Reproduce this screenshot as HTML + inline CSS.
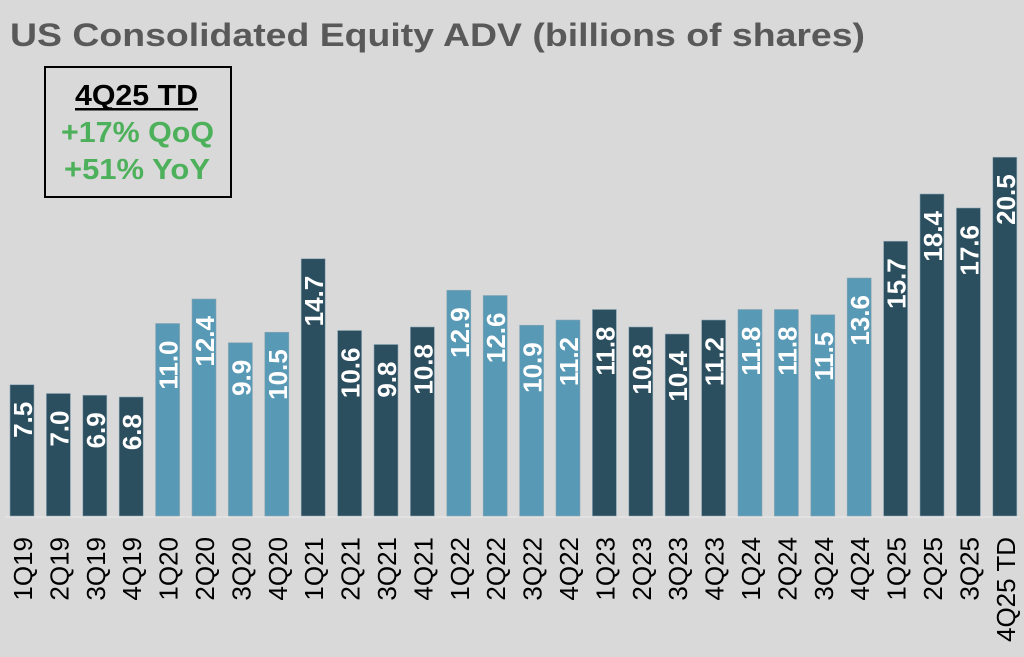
<!DOCTYPE html>
<html><head><meta charset="utf-8"><style>
html,body{margin:0;padding:0;background:#d9d9da;}
svg{display:block;font-family:"Liberation Sans",Arial,sans-serif;}
.d{fill:#2c4f5f;stroke:#8aa6b3;stroke-width:0.6}
.l{fill:#5899b5;stroke:#8aa6b3;stroke-width:0.6}
.v{font-size:26px;font-weight:bold;fill:#fff;text-anchor:end}
.c{font-size:26px;fill:#000;text-anchor:end}
</style></head><body>
<svg width="1024" height="657" viewBox="0 0 1024 657" xmlns="http://www.w3.org/2000/svg">
<rect width="1024" height="657" fill="#d9d9da"/>
<text x="10" y="46" font-size="32" font-weight="bold" fill="#595959" textLength="855" lengthAdjust="spacingAndGlyphs">US Consolidated Equity ADV (billions of shares)</text>
<rect x="45" y="67" width="186" height="130" fill="none" stroke="#000" stroke-width="2"/>
<text x="75" y="105" font-size="29" font-weight="bold" fill="#000" textLength="123" lengthAdjust="spacingAndGlyphs">4Q25 TD</text>
<rect x="75" y="108" width="123" height="2.5" fill="#000"/>
<text x="61" y="142" font-size="29" font-weight="bold" fill="#4db05a" textLength="153" lengthAdjust="spacingAndGlyphs">+17% QoQ</text>
<text x="64" y="179" font-size="29" font-weight="bold" fill="#4db05a" textLength="146" lengthAdjust="spacingAndGlyphs">+51% YoY</text>
<line x1="5" y1="517" x2="1020" y2="517" stroke="#e6e6e6" stroke-width="1.5"/>

<rect class="d" x="10" y="384.75" width="24" height="131.25"/>
<rect class="d" x="46.4" y="393.5" width="24" height="122.5"/>
<rect class="d" x="82.8" y="395.25" width="24" height="120.75"/>
<rect class="d" x="119.2" y="397" width="24" height="119"/>
<rect class="l" x="155.6" y="323.5" width="24" height="192.5"/>
<rect class="l" x="192" y="299" width="24" height="217"/>
<rect class="l" x="228.4" y="342.75" width="24" height="173.25"/>
<rect class="l" x="264.8" y="332.25" width="24" height="183.75"/>
<rect class="d" x="301.2" y="258.75" width="24" height="257.25"/>
<rect class="d" x="337.6" y="330.5" width="24" height="185.5"/>
<rect class="d" x="374" y="344.5" width="24" height="171.5"/>
<rect class="d" x="410.4" y="327" width="24" height="189"/>
<rect class="l" x="446.8" y="290.25" width="24" height="225.75"/>
<rect class="l" x="483.2" y="295.5" width="24" height="220.5"/>
<rect class="l" x="519.6" y="325.25" width="24" height="190.75"/>
<rect class="l" x="556" y="320" width="24" height="196"/>
<rect class="d" x="592.4" y="309.5" width="24" height="206.5"/>
<rect class="d" x="628.8" y="327" width="24" height="189"/>
<rect class="d" x="665.2" y="334" width="24" height="182"/>
<rect class="d" x="701.6" y="320" width="24" height="196"/>
<rect class="l" x="738" y="309.5" width="24" height="206.5"/>
<rect class="l" x="774.4" y="309.5" width="24" height="206.5"/>
<rect class="l" x="810.8" y="314.75" width="24" height="201.25"/>
<rect class="l" x="847.2" y="278" width="24" height="238"/>
<rect class="d" x="883.6" y="241.25" width="24" height="274.75"/>
<rect class="d" x="920" y="194" width="24" height="322"/>
<rect class="d" x="956.4" y="208" width="24" height="308"/>
<rect class="d" x="992.8" y="157.25" width="24" height="358.75"/>

<text class="v" transform="translate(32,401.75) rotate(-90)">7.5</text>
<text class="v" transform="translate(68.4,410.5) rotate(-90)">7.0</text>
<text class="v" transform="translate(104.8,412.25) rotate(-90)">6.9</text>
<text class="v" transform="translate(141.2,414) rotate(-90)">6.8</text>
<text class="v" transform="translate(177.6,340.5) rotate(-90)">11.0</text>
<text class="v" transform="translate(214,316) rotate(-90)">12.4</text>
<text class="v" transform="translate(250.4,359.75) rotate(-90)">9.9</text>
<text class="v" transform="translate(286.8,349.25) rotate(-90)">10.5</text>
<text class="v" transform="translate(323.2,275.75) rotate(-90)">14.7</text>
<text class="v" transform="translate(359.6,347.5) rotate(-90)">10.6</text>
<text class="v" transform="translate(396,361.5) rotate(-90)">9.8</text>
<text class="v" transform="translate(432.4,344) rotate(-90)">10.8</text>
<text class="v" transform="translate(468.8,307.25) rotate(-90)">12.9</text>
<text class="v" transform="translate(505.2,312.5) rotate(-90)">12.6</text>
<text class="v" transform="translate(541.6,342.25) rotate(-90)">10.9</text>
<text class="v" transform="translate(578,337) rotate(-90)">11.2</text>
<text class="v" transform="translate(614.4,326.5) rotate(-90)">11.8</text>
<text class="v" transform="translate(650.8,344) rotate(-90)">10.8</text>
<text class="v" transform="translate(687.2,351) rotate(-90)">10.4</text>
<text class="v" transform="translate(723.6,337) rotate(-90)">11.2</text>
<text class="v" transform="translate(760,326.5) rotate(-90)">11.8</text>
<text class="v" transform="translate(796.4,326.5) rotate(-90)">11.8</text>
<text class="v" transform="translate(832.8,331.75) rotate(-90)">11.5</text>
<text class="v" transform="translate(869.2,295) rotate(-90)">13.6</text>
<text class="v" transform="translate(905.6,258.25) rotate(-90)">15.7</text>
<text class="v" transform="translate(942,211) rotate(-90)">18.4</text>
<text class="v" transform="translate(978.4,225) rotate(-90)">17.6</text>
<text class="v" transform="translate(1014.8,174.25) rotate(-90)">20.5</text>

<text class="c" transform="translate(32,537) rotate(-90)">1Q19</text>
<text class="c" transform="translate(68.4,537) rotate(-90)">2Q19</text>
<text class="c" transform="translate(104.8,537) rotate(-90)">3Q19</text>
<text class="c" transform="translate(141.2,537) rotate(-90)">4Q19</text>
<text class="c" transform="translate(177.6,537) rotate(-90)">1Q20</text>
<text class="c" transform="translate(214,537) rotate(-90)">2Q20</text>
<text class="c" transform="translate(250.4,537) rotate(-90)">3Q20</text>
<text class="c" transform="translate(286.8,537) rotate(-90)">4Q20</text>
<text class="c" transform="translate(323.2,537) rotate(-90)">1Q21</text>
<text class="c" transform="translate(359.6,537) rotate(-90)">2Q21</text>
<text class="c" transform="translate(396,537) rotate(-90)">3Q21</text>
<text class="c" transform="translate(432.4,537) rotate(-90)">4Q21</text>
<text class="c" transform="translate(468.8,537) rotate(-90)">1Q22</text>
<text class="c" transform="translate(505.2,537) rotate(-90)">2Q22</text>
<text class="c" transform="translate(541.6,537) rotate(-90)">3Q22</text>
<text class="c" transform="translate(578,537) rotate(-90)">4Q22</text>
<text class="c" transform="translate(614.4,537) rotate(-90)">1Q23</text>
<text class="c" transform="translate(650.8,537) rotate(-90)">2Q23</text>
<text class="c" transform="translate(687.2,537) rotate(-90)">3Q23</text>
<text class="c" transform="translate(723.6,537) rotate(-90)">4Q23</text>
<text class="c" transform="translate(760,537) rotate(-90)">1Q24</text>
<text class="c" transform="translate(796.4,537) rotate(-90)">2Q24</text>
<text class="c" transform="translate(832.8,537) rotate(-90)">3Q24</text>
<text class="c" transform="translate(869.2,537) rotate(-90)">4Q24</text>
<text class="c" transform="translate(905.6,537) rotate(-90)">1Q25</text>
<text class="c" transform="translate(942,537) rotate(-90)">2Q25</text>
<text class="c" transform="translate(978.4,537) rotate(-90)">3Q25</text>
<text class="c" transform="translate(1014.8,537) rotate(-90)">4Q25 TD</text>
</svg>
</body></html>
